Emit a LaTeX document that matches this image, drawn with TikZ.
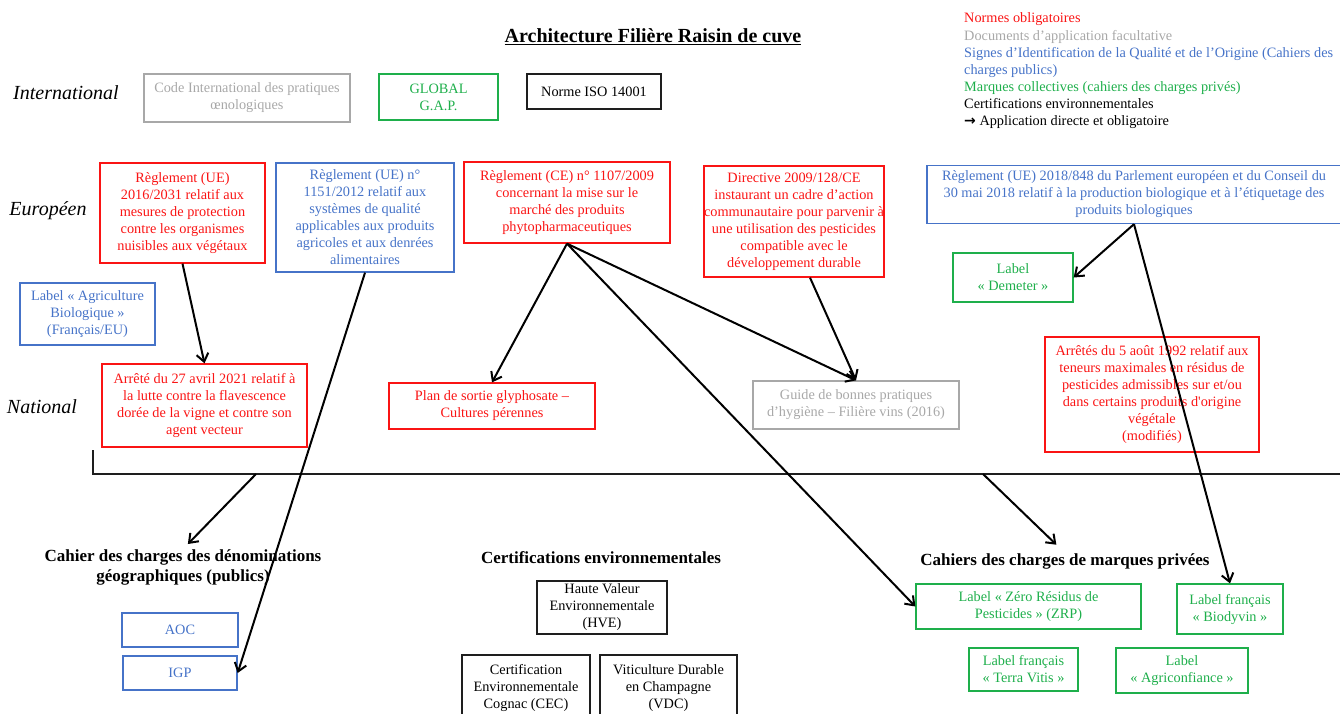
\documentclass[tikz,border=0pt]{standalone}
\usepackage{fontspec}
\setmainfont{Liberation Serif}
\newfontfamily\symfont{DejaVu Sans}
\usetikzlibrary{arrows.meta,calc}
\definecolor{cred}{RGB}{250,20,20}
\definecolor{cgray}{RGB}{168,168,168}
\definecolor{cblue}{RGB}{70,115,200}
\definecolor{cgreen}{RGB}{30,175,75}
\definecolor{cblack}{RGB}{30,30,30}
\begin{document}
\begin{tikzpicture}[x=1pt,y=-1pt,
  box/.style={draw, line width=1.3pt, align=center, inner sep=0pt, font=\fontsize{14.3}{17}\selectfont},
  redbox/.style={box, draw=cred, text=cred},
  graybox/.style={box, draw=cgray, text=cgray},
  bluebox/.style={box, draw=cblue, text=cblue},
  greenbox/.style={box, draw=cgreen, text=cgreen},
  blackbox/.style={box, draw=cblack, text=black},
  lvl/.style={font=\fontsize{20}{24}\selectfont\itshape, inner sep=0pt},
  sect/.style={font=\fontsize{17}{20}\selectfont\bfseries, align=center, inner sep=0pt},
  leg/.style={anchor=base west, inner sep=0pt, font=\fontsize{14.3}{17}\selectfont},
  arr/.style={line width=2pt, -{Straight Barb[length=8pt,width=12pt,line width=2pt]}},
  sz/.style 2 args={minimum width=#1pt, minimum height=#2pt}
]
\useasboundingbox (0,0) rectangle (1340,713);

% title
\node[sect, font=\fontsize{20}{24}\selectfont\bfseries] (title) at (653,37) {\underline{Architecture Filière Raisin de cuve}};

% level labels
\node[lvl] (lint) at (66,93) {International};
\node[lvl] (leur) at (48,211) {Européen};
\node[lvl] (lnat) at (42,407) {National};

% legend
\node[leg, text=cred]  (lg1) at (964,22) {Normes obligatoires};
\node[leg, text=cgray] (lg2) at (964,40) {Documents d’application facultative};
\node[leg, text=cblue] (lg3) at (964,57) {Signes d’Identification de la Qualité et de l’Origine (Cahiers des};
\node[leg, text=cblue] (lg4) at (964,74) {charges publics)};
\node[leg, text=cgreen] (lg5) at (964,91) {Marques collectives (cahiers des charges privés)};
\node[leg, text=black] (lg6) at (964,108) {Certifications environnementales};
\node[leg, text=black] (lg7) at (964,125) {{\symfont\bfseries\fontsize{14}{17}\selectfont →} Application directe et obligatoire};

% international
\node[graybox, sz={206}{48}] (code) at (247,98) {Code International des pratiques\\œnologiques};
\node[greenbox, sz={119}{46}] (gap) at (438.5,97) {GLOBAL\\G.A.P.};
\node[blackbox, sz={134}{35}] (iso) at (594,91.5) {Norme ISO 14001};

% european
\node[redbox, sz={165}{100}] (r2016) at (182.5,213) {Règlement (UE)\\2016/2031 relatif aux\\mesures de protection\\contre les organismes\\nuisibles aux végétaux};
\node[bluebox, sz={178}{109}] (r1151) at (365,217.5) {Règlement (UE) n°\\1151/2012 relatif aux\\systèmes de qualité\\applicables aux produits\\agricoles et aux denrées\\alimentaires};
\node[redbox, sz={206}{81}] (r1107) at (567,202.5) {Règlement (CE) n° 1107/2009\\concernant la mise sur le\\marché des produits\\phytopharmaceutiques};
\node[redbox, sz={178}{111}] (dir) at (794,221.5) {Directive 2009/128/CE\\instaurant un cadre d’action\\communautaire pour parvenir à\\une utilisation des pesticides\\compatible avec le\\développement durable};
\node[bluebox, sz={414}{58}] (r848) at (1134,194.5) {Règlement (UE) 2018/848 du Parlement européen et du Conseil du\\30 mai 2018 relatif à la production biologique et à l’étiquetage des\\produits biologiques};
\node[bluebox, sz={135}{62}] (ab) at (87.5,314) {Label « Agriculture\\Biologique »\\(Français/EU)};
\node[greenbox, sz={120}{49}] (dem) at (1013,277.5) {Label\\« Demeter »};

% national
\node[redbox, sz={205}{83}] (a2021) at (204.5,405.5) {Arrêté du 27 avril 2021 relatif à\\la lutte contre la flavescence\\dorée de la vigne et contre son\\agent vecteur};
\node[redbox, sz={206}{46}] (plan) at (492,406) {Plan de sortie glyphosate –\\Cultures pérennes};
\node[graybox, sz={206}{48}] (guide) at (856,405) {Guide de bonnes pratiques\\d’hygiène – Filière vins (2016)};
\node[redbox, sz={214}{115}] (a1992) at (1152,394.5) {Arrêtés du 5 août 1992 relatif aux\\teneurs maximales en résidus de\\pesticides admissibles sur et/ou\\dans certains produits d\textquotesingle origine\\végétale\\(modifiés)};

% bracket
\coordinate (bk0) at (93,450);
\coordinate (bk1) at (93,474);
\coordinate (bk2) at (1345,474);
\coordinate (bl1) at (256,474);
\coordinate (bl2) at (983,474);
\draw[line width=1.2pt, cblack] (bk0) -- (bk1) -- (bk2);

% lower sections
\node[sect] (cahier) at (183,567) {Cahier des charges des dénominations\\géographiques (publics)};
\node[sect] (certif) at (601,558) {Certifications environnementales};
\node[sect] (marques) at (1065,561) {Cahiers des charges de marques privées};

\node[bluebox, sz={116}{34}] (aoc) at (180,630) {AOC};
\node[bluebox, sz={114}{34}] (igp) at (180,673) {IGP};

\node[blackbox, sz={130}{53}] (hve) at (602,607.5) {Haute Valeur\\Environnementale\\(HVE)};
\node[blackbox, sz={128}{66}] (cec) at (526,688) {Certification\\Environnementale\\Cognac (CEC)};
\node[blackbox, sz={137}{66}] (vdc) at (668.5,688) {Viticulture Durable\\en Champagne\\(VDC)};

\node[greenbox, sz={225}{45}] (zrp) at (1028.5,606.5) {Label « Zéro Résidus de\\Pesticides » (ZRP)};
\node[greenbox, sz={106}{50}] (bio) at (1230,609) {Label français\\« Biodyvin »};
\node[greenbox, sz={109}{43}] (tv) at (1023.5,669.5) {Label français\\« Terra Vitis »};
\node[greenbox, sz={132}{45}] (agri) at (1182,670.5) {Label\\« Agriconfiance »};

% arrows
\draw[arr] (r2016.south) -- (a2021.north);
\draw[arr] (r1151.south) -- (igp.east);
\draw[arr] (r1107.south) -- (plan.north);
\draw[arr] (r1107.south) -- (guide.north);
\draw[arr] (r1107.south) -- (zrp.west);
\draw[arr] ([xshift=16pt]dir.south) -- (guide.north);
\draw[arr] (r848.south) -- (dem.east);
\draw[arr] (r848.south) -- (bio.north);
\draw[arr, shorten >=7pt] (bl1) -- (cahier.north);
\draw[arr, shorten >=12pt] (bl2) -- (marques.north);
\end{tikzpicture}
\end{document}
